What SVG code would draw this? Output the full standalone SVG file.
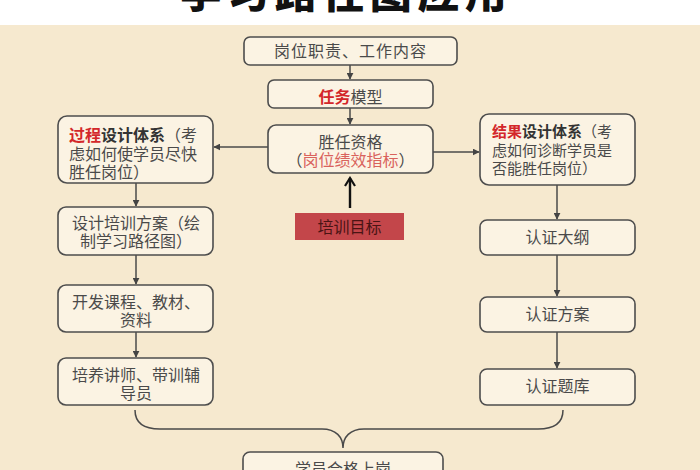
<svg xmlns="http://www.w3.org/2000/svg" width="700" height="470" viewBox="0 0 700 470">
<defs>
<marker id="ah" viewBox="0 0 10 10" refX="9" refY="5" markerWidth="7" markerHeight="7" markerUnits="userSpaceOnUse" orient="auto">
<path d="M0,0 L10,5 L0,10 z" fill="#444"/>
</marker>
<marker id="open" viewBox="0 0 12 12" refX="10" refY="6" markerWidth="12" markerHeight="12" markerUnits="userSpaceOnUse" orient="auto">
<path d="M2,1 L10,6 L2,11" fill="none" stroke="#111" stroke-width="2.2"/>
</marker>
<style>
.bx{fill:#fbf3e3;stroke:#4d4d4d;stroke-width:1.6}
.t{font-family:"Noto Sans CJK SC","Noto Sans",sans-serif;font-size:16px;fill:#4a4a4a}
.c{text-anchor:middle}
.r{fill:#d3272a;font-weight:bold}
.b{font-weight:bold;fill:#333}
.ln{fill:none;stroke:#4a4a4a;stroke-width:1.5}
</style>
</defs>
<rect x="0" y="0" width="700" height="470" fill="#f6e9cf"/>
<rect x="0" y="0" width="700" height="25" fill="#ffffff"/>
<text x="346" y="8" text-anchor="middle" style="font-family:'Noto Sans CJK SC',sans-serif;font-size:42px;font-weight:900;letter-spacing:5.5px" fill="#111">学习路径图应用</text>

<g id="connectors">
<line class="ln" x1="350" y1="65" x2="350" y2="79" marker-end="url(#ah)"/>
<line class="ln" x1="350" y1="108" x2="350" y2="124" marker-end="url(#ah)"/>
<line class="ln" x1="268" y1="147" x2="214" y2="147" marker-end="url(#ah)"/>
<line class="ln" x1="433" y1="152" x2="479" y2="152" marker-end="url(#ah)"/>
<line x1="350" y1="208" x2="350" y2="178" stroke="#111" stroke-width="2.4" marker-end="url(#open)"/>
<line class="ln" x1="136" y1="183" x2="136" y2="206" marker-end="url(#ah)"/>
<line class="ln" x1="136" y1="255" x2="136" y2="284" marker-end="url(#ah)"/>
<line class="ln" x1="136" y1="332" x2="136" y2="357" marker-end="url(#ah)"/>
<line class="ln" x1="557" y1="185" x2="557" y2="219" marker-end="url(#ah)"/>
<line class="ln" x1="557" y1="255" x2="557" y2="296" marker-end="url(#ah)"/>
<line class="ln" x1="557" y1="332" x2="557" y2="368" marker-end="url(#ah)"/>
<path class="ln" d="M135,410 C135,424 145,429 160,429 L322,429 C336,429 343,437 343,448 C343,437 350,429 364,429 L538,429 C553,429 563,424 563,410"/>
</g>

<g id="n-duty">
<rect class="bx" x="244" y="37" width="213" height="28" rx="6"/>
<text class="t c" x="350.5" y="56.5" style="letter-spacing:1px">岗位职责、工作内容</text>
</g>
<g id="n-task">
<rect class="bx" x="268" y="80" width="165" height="28" rx="6"/>
<text class="t c" x="350.5" y="103"><tspan class="r">任务</tspan>模型</text>
</g>
<g id="n-comp">
<rect class="bx" x="268" y="125" width="165" height="48" rx="8"/>
<text class="t c" x="350.5" y="148">胜任资格</text>
<text class="t c" x="350.5" y="166">（<tspan fill="#d9625c">岗位绩效指标</tspan>）</text>
</g>
<g id="n-goal">
<rect x="295" y="213" width="109" height="27" fill="#c3464a"/>
<text class="t c" x="349.5" y="233" fill="#4a1414" style="fill:#4a1414">培训目标</text>
</g>
<g id="n-process">
<rect class="bx" x="58" y="116" width="155" height="67" rx="9"/>
<text class="t" x="69" y="141"><tspan class="r">过程</tspan><tspan class="b">设计体系</tspan>（考</text>
<text class="t" x="69" y="159.5">虑如何使学员尽快</text>
<text class="t" x="69" y="178">胜任岗位）</text>
</g>
<g id="n-plan">
<rect class="bx" x="58" y="207" width="155" height="48" rx="8"/>
<text class="t c" x="136" y="229">设计培训方案（绘</text>
<text class="t c" x="136" y="247">制学习路径图）</text>
</g>
<g id="n-course">
<rect class="bx" x="58" y="285" width="155" height="47" rx="8"/>
<text class="t c" x="136" y="308">开发课程、教材、</text>
<text class="t c" x="136" y="326">资料</text>
</g>
<g id="n-trainer">
<rect class="bx" x="58" y="358" width="155" height="47" rx="8"/>
<text class="t c" x="136" y="381">培养讲师、带训辅</text>
<text class="t c" x="136" y="399">导员</text>
</g>
<g id="n-result">
<rect class="bx" x="480" y="114" width="155" height="71" rx="9"/>
<text class="t" x="492" y="137" style="font-size:15px"><tspan class="r">结果</tspan><tspan class="b">设计体系</tspan>（考</text>
<text class="t" x="492" y="156" style="font-size:15px">虑如何诊断学员是</text>
<text class="t" x="492" y="174" style="font-size:15px">否能胜任岗位）</text>
</g>
<g id="n-outline">
<rect class="bx" x="480" y="220" width="155" height="35" rx="7"/>
<text class="t c" x="557.5" y="243">认证大纲</text>
</g>
<g id="n-scheme">
<rect class="bx" x="480" y="297" width="155" height="35" rx="7"/>
<text class="t c" x="557.5" y="320">认证方案</text>
</g>
<g id="n-bank">
<rect class="bx" x="480" y="369" width="155" height="36" rx="7"/>
<text class="t c" x="557.5" y="392">认证题库</text>
</g>
<g id="n-pass">
<rect class="bx" x="243" y="452" width="200" height="40" rx="7"/>
<text class="t c" x="343" y="475">学员合格上岗</text>
</g>
</svg>
